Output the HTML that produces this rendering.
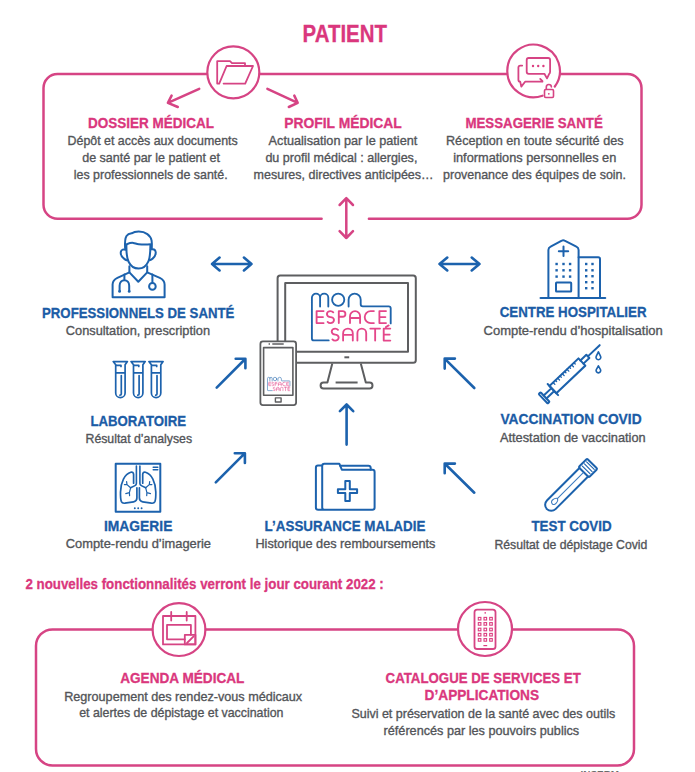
<!DOCTYPE html>
<html><head><meta charset="utf-8">
<style>
html,body{margin:0;padding:0;background:#fff;}
body{width:695px;height:772px;overflow:hidden;}
svg{display:block;}
text{font-family:"Liberation Sans",sans-serif;}
.tp{font-weight:bold;font-size:14.8px;fill:#da377d;stroke:#da377d;stroke-width:0.3px;}
.tb{font-weight:bold;font-size:14.8px;fill:#1b5ca6;stroke:#1b5ca6;stroke-width:0.3px;}
.bd{font-size:13px;fill:#535559;stroke:#535559;stroke-width:0.35px;}
.pk{fill:none;stroke:#d64484;stroke-width:2.5;stroke-linecap:round;stroke-linejoin:round;}
.bl{fill:none;stroke:#1c62ad;stroke-width:2;stroke-linecap:round;stroke-linejoin:round;}
.ar{fill:none;stroke:#1c62ad;stroke-width:2.6;stroke-linecap:round;stroke-linejoin:round;}
.gr{fill:none;stroke:#5d5e60;stroke-width:2;stroke-linejoin:round;}
</style></head>
<body>
<svg width="695" height="772" viewBox="0 0 695 772">
<!-- ===== TOP PATIENT BOX ===== -->
<text class="tp" x="302.6" y="42.3" style="font-size:24.5px" textLength="84.4" lengthAdjust="spacingAndGlyphs">PATIENT</text>
<path class="pk" d="M206.5,74 H57.5 A14,14 0 0 0 43.5,88 V204.8 A14,14 0 0 0 57.5,218.8 H321.6 M368.9,218.8 H627.5 A14,14 0 0 0 641.5,204.8 V88 A14,14 0 0 0 627.5,74 H560.6 M506.5,74 H260"/>
<circle class="pk" cx="233.3" cy="72.3" r="26" style="stroke-width:2.2"/>
<!-- folder icon -->
<path class="pk" style="stroke-width:1.8" d="M245,65.5 V63.2 H232 L230,61.2 H217.2 V83.6 H219.2 L226.6,66 H253 L245.2,83.6 H223.6"/>
<!-- message circle w/ gap -->
<path class="pk" style="stroke-width:2.2" d="M542.5,95.7 A26.3,26.3 0 1 1 554.8,86.5"/>
<path class="pk" style="stroke-width:1.8" d="M528.7,58 H548.1 Q550.1,58 550.1,60 V71.8 Q550.1,73.4 549.2,73.9 L547,78.4 L544.4,73.8 H528.7 Q526.7,73.8 526.7,71.8 V60 Q526.7,58 528.7,58 Z"/>
<path class="pk" style="stroke-width:1.8" d="M522.2,65.6 H520.4 Q518.4,65.6 518.4,67.6 V79.7 Q518.4,81.7 520.2,81.7 L521.3,86.6 L525.1,81.7 H542.4 M540.2,78.9 L542.5,81.2"/>
<g fill="#dc3e80"><circle cx="533" cy="66" r="1.2"/><circle cx="538.2" cy="66" r="1.2"/><circle cx="543.4" cy="66" r="1.2"/></g>
<path class="pk" style="stroke-width:1.6" d="M546.3,89.2 V87.2 A2.55,2.55 0 0 1 551.4,87"/>
<rect class="pk" style="stroke-width:1.6" x="544.5" y="89.5" width="9" height="8" rx="1.2"/>
<circle cx="548.8" cy="93.8" r="0.9" fill="#dc3e80"/>
<!-- pink arrows -->
<path class="pk" d="M199.2,88.8 L167.9,102.8 M171.6,95.6 L167.9,102.8 L177.8,107"/>
<path class="pk" d="M267.4,88.8 L297.7,102.8 M294.3,95.6 L297.7,102.8 L288.8,107"/>
<path class="pk" d="M346.3,198.2 V238 M339.6,205 L346.3,198.2 L353,205 M339.6,231.2 L346.3,238 L353,231.2"/>

<!-- top titles -->
<text class="tp" x="88" y="127.8" textLength="126" lengthAdjust="spacingAndGlyphs">DOSSIER MÉDICAL</text>
<text class="tp" x="284.2" y="127.8" textLength="117.6" lengthAdjust="spacingAndGlyphs">PROFIL MÉDICAL</text>
<text class="tp" x="465.4" y="127.8" textLength="137.4" lengthAdjust="spacingAndGlyphs">MESSAGERIE SANTÉ</text>
<text class="bd" x="67.6" y="144.7" textLength="170.1" lengthAdjust="spacingAndGlyphs">Dépôt et accès aux documents</text>
<text class="bd" x="82.2" y="162" textLength="137.8" lengthAdjust="spacingAndGlyphs">de santé par le patient et</text>
<text class="bd" x="73.8" y="179.4" textLength="153.8" lengthAdjust="spacingAndGlyphs">les professionnels de santé.</text>
<text class="bd" x="268.6" y="144.7" textLength="148.7" lengthAdjust="spacingAndGlyphs">Actualisation par le patient</text>
<text class="bd" x="265.4" y="162" textLength="152" lengthAdjust="spacingAndGlyphs">du profil médical : allergies,</text>
<text class="bd" x="253.6" y="179.4" textLength="180" lengthAdjust="spacingAndGlyphs">mesures, directives anticipées…</text>
<text class="bd" x="446" y="144.7" textLength="177.5" lengthAdjust="spacingAndGlyphs">Réception en toute sécurité des</text>
<text class="bd" x="453.2" y="162" textLength="163.1" lengthAdjust="spacingAndGlyphs">informations personnelles en</text>
<text class="bd" x="443.1" y="179.4" textLength="182.9" lengthAdjust="spacingAndGlyphs">provenance des équipes de soin.</text>

<!-- ===== MIDDLE ===== -->
<!-- arrows -->
<path class="ar" d="M212,264 H251.5 M219.6,257.6 L212,264 L219.6,270.4 M243.9,257.6 L251.5,264 L243.9,270.4"/>
<path class="ar" d="M439.5,264 H479.5 M447.3,257.6 L439.5,264 L447.3,270.4 M471.7,257.6 L479.5,264 L471.7,270.4"/>
<path class="ar" d="M216.7,387.6 L245.2,359 M235.7,358.8 H245.4 V368.3"/>
<path class="ar" d="M215.8,482.3 L244.7,453.4 M234.8,453.3 H244.9 V462.9"/>
<path class="ar" d="M474.3,388 L444.9,358.8 M454.9,358.6 H444.7 V368.6"/>
<path class="ar" d="M474.3,492.7 L444.9,463.7 M454.9,463.6 H444.7 V473.3"/>
<path class="ar" d="M346.6,404.5 V444.6 M339.9,411.2 L346.6,404.5 L353.2,411.2"/>

<!-- monitor -->
<rect class="gr" x="277.6" y="275.6" width="138.2" height="87.2" rx="2.6"/>
<rect class="gr" x="285.2" y="283" width="122.8" height="68.8"/>
<path class="gr" d="M344.4,357.3 H349.2"/>
<path class="gr" d="M332.3,363.6 L327.4,382.6 H323.5 A2.9,2.9 0 0 0 323.5,388.4 H369.6 A2.9,2.9 0 0 0 369.6,382.6 H365.8 L360.8,363.6 M335.6,382.4 H357.6"/>
<defs>
<g id="logo" fill="none" stroke-linecap="round" stroke-linejoin="round">
<path stroke="#1f64ab" d="M328.7,340.4 H313.9 A2,2 0 0 1 311.9,338.4 V297.7 A4.1,4.1 0 0 1 320.1,297.7 V306.6 M320.1,297.7 A4.1,4.1 0 0 1 328.3,297.7 V306.6 M344.3,299.7 A6.1,6.1 0 1 1 332.1,299.7 A6.1,6.1 0 1 1 344.3,299.7 Z M348.6,306.6 V299.7 A6.05,6.05 0 0 1 360.7,299.7 V304.3 A2,2 0 0 0 362.7,306.3 H388.7 A2,2 0 0 1 390.7,308.3 V323.4"/>
<path stroke="#e4478a" d="M323.60,311.10 H316.60 V323.10 H323.60 M316.60,317.10 H323.00 M333.29,312.30 A3.55,3.00 0 0 0 330.45,311.10 A3.55,3.00 0 0 0 326.90,314.10 A3.55,3.00 0 0 0 330.45,317.10 A3.55,3.00 0 0 1 334.00,320.10 A3.55,3.00 0 0 1 330.45,323.10 A3.55,3.00 0 0 1 327.61,321.90 M338.80,323.10 V311.10 H342.60 A2.80,2.80 0 0 1 342.60,316.70 H338.80 M350.00,323.10 V316.15 A5.05,5.05 0 0 1 360.10,316.15 V323.10 M350.00,318.00 H360.10 M373.90,311.10 H370.70 A6.00,6.00 0 0 0 370.70,323.10 H373.90 M386.00,311.10 H379.40 V323.10 H386.00 M379.40,317.10 H385.40 M338.00,329.80 A3.50,3.00 0 0 0 335.20,328.60 A3.50,3.00 0 0 0 331.70,331.60 A3.50,3.00 0 0 0 335.20,334.60 A3.50,3.00 0 0 1 338.70,337.60 A3.50,3.00 0 0 1 335.20,340.60 A3.50,3.00 0 0 1 332.40,339.40 M343.10,340.60 V333.45 A4.85,4.85 0 0 1 352.80,333.45 V340.60 M343.10,334.80 H352.80 M357.40,340.60 V333.00 A4.40,4.40 0 0 1 366.20,333.00 V340.60 M370.30,328.60 H380.00 M375.15,328.60 V340.60 M390.30,328.60 H383.70 V340.60 H390.30 M383.70,334.60 H389.70 M385.9,327.0 L388.7,325.4"/>
</g>
</defs>
<use href="#logo" stroke-width="1.85"/>

<!-- phone -->
<rect x="260.4" y="341.4" width="35.7" height="63.7" rx="2.5" fill="#fff" stroke="#5d5e60" stroke-width="1.8"/>
<rect class="gr" style="stroke-width:1.6" x="263.6" y="347.6" width="29.3" height="47.7"/>
<path class="gr" style="stroke-width:1.4" d="M268.6,344 H270 M272.3,344 H283.7"/>
<rect class="gr" style="stroke-width:1.4" x="275.4" y="397.9" width="5.7" height="4.1"/>
<use href="#logo" stroke-width="1.9" transform="translate(178.6,293.6) scale(0.285)"/>

<!-- doctor -->
<g class="bl">
<path d="M125.1,248.3 C124.8,243 124.9,238.5 126.5,236 C127.6,234.4 129.6,233.6 131.6,233.3 C133.6,232 136,231.6 138.7,231.6 C145.6,231.6 150.6,235.2 151.6,240.6 C152,243 151.9,246 151.8,248.3"/>
<path d="M126.8,244.2 C128.8,243.4 131.2,242.6 133.3,242.9 C135.2,243.2 136.6,244.2 138.7,244.3 C142,244.5 146.8,244.6 150.4,244.2"/>
<path d="M126.4,245 C126.3,251 126.6,257.6 128.6,261.8 C130.4,265.6 133.6,268.6 138.6,268.6 C143.4,268.6 146.6,265.4 148.4,261.4 C150.2,257.4 150.4,251 150.4,245"/>
<path d="M126,249.8 C123.6,249 121.2,249.4 120.8,252 C120.5,254.4 121.8,257 124,258.6 C125,259.4 126,260 127,260.4 M150.8,249.4 C153.2,248.8 155.4,249.4 155.7,252 C155.9,254.6 154.6,257 152.6,258.6 C151.8,259.2 150.9,259.8 150,260.2"/>
<path d="M129.4,266.2 V272.4 L138.3,281.8 L147.2,272.4 V266.2"/>
<path d="M129.4,272.4 L117.4,277.8 C114.4,279.2 112.6,281.4 112.6,284.4 V297.2 H164.6 V284.4 C164.6,281.4 162.8,279.2 159.8,277.8 L147.2,272.4"/>
<path d="M124.4,274.6 V280.2 M119.6,291 V285.8 C119.6,282.4 121.7,280.2 124.4,280.2 C127.1,280.2 129.2,282.4 129.2,285.8 V291"/>
<path d="M152.4,274.6 V283"/>
<circle cx="152.4" cy="286.4" r="3.3"/>
</g>
<g fill="#1c62ad"><circle cx="119.6" cy="291.4" r="1.4"/><circle cx="129.2" cy="291.4" r="1.4"/></g>

<!-- test tubes -->
<defs><path id="tube" d="M113.2,361.6 H127.4 L125.1,364.8 V392.9 A4.7,4.7 0 0 1 115.7,392.9 V364.8 Z M116.6,365.4 H121 V366.4 M115.7,372.9 H125.1 M121.3,375.6 V394 Q121.3,395.2 120,395.2"/></defs>
<g class="bl" style="stroke-width:1.7">
<use href="#tube"/><use href="#tube" x="17.8"/><use href="#tube" x="35.7"/>
</g>

<!-- lungs / imagerie -->
<defs><g id="lunghalf">
<path style="stroke-width:1.6" d="M136.4,466.1 V483.6 Q136.4,485 135,485.6 L130.6,487.8"/>
<path style="stroke-width:1.2" d="M130.6,487.8 L127,484.6 L124.4,484.6 M127,484.6 L126.6,481.6 M130.6,487.8 L129.4,492.6 L125.8,493.6 M129.4,492.6 L129.6,495.6"/>
<path style="stroke-width:1.7" d="M133.6,483.2 V474.6 C133.6,472.6 132.4,471.8 130.8,472.3 C124.6,474.2 120.8,482 120.5,492 C120.4,496.5 120.6,499.6 121.4,501.6 C122,503 123.2,503.4 124.8,503.2 L133.6,501.8 C135.8,501.4 136.9,500.2 136.9,498 V487.8"/>
</g></defs>
<g class="bl">
<rect x="115.7" y="463.7" width="44.6" height="48" style="stroke-width:2"/>
<path style="stroke-width:1.5" d="M153.2,467.2 H157.8 M153.2,469.8 H157.8"/>
<use href="#lunghalf"/>
<use href="#lunghalf" transform="translate(276.3,0) scale(-1,1)"/>
</g>
<g fill="#1c62ad"><circle cx="134.8" cy="508.2" r="0.95"/><circle cx="138.2" cy="508.2" r="0.95"/><circle cx="141.6" cy="508.2" r="0.95"/></g>

<!-- assurance folder -->
<g class="bl">
<path d="M322.4,465.6 H318 Q315.9,465.6 315.9,467.8 V507.6 Q315.9,509.8 318.1,509.8 H372.4 Q374.6,509.8 374.6,507.6 V471.9 Q374.6,469.7 372.4,469.7 H341.8 L339.3,463.7 H324.4 Q322.2,463.7 322.2,465.9 V507.4 Q322.2,509.8 324.4,509.8"/>
<path d="M340.2,465.8 H368.4 Q370.6,465.8 370.7,468 V469.7"/>
<path d="M345.3,481.1 H349.8 V489.3 H357.1 V492.9 H349.8 V500.9 H345.3 V492.9 H337.9 V489.3 H345.3 Z"/>
</g>

<!-- hospital -->
<g class="bl">
<path d="M548.4,297.4 V250 Q548.4,247.6 550.6,246.6 L561.8,240.6 Q563.2,239.8 564.6,240.6 L576.4,246.6 Q578.6,247.6 578.6,250 V297.4"/>
<path d="M578.6,257.2 H598.2 Q600,257.2 600,259 V297.4"/>
<path d="M540.6,298 H605.2" style="stroke-width:2.2"/>
<path d="M563.5,246.6 V256 M558.8,251.3 H568.2"/>
<rect x="556" y="282.6" width="15.2" height="9" rx="0.6"/>
</g>
<g fill="#1c62ad">
<rect x="555.4" y="262.8" width="2.4" height="2.4"/><rect x="562.3" y="262.8" width="2.4" height="2.4"/><rect x="568.9" y="262.8" width="2.4" height="2.4"/>
<rect x="555.4" y="269.1" width="2.4" height="2.4"/><rect x="562.3" y="269.1" width="2.4" height="2.4"/><rect x="568.9" y="269.1" width="2.4" height="2.4"/>
<rect x="555.4" y="275.4" width="2.4" height="2.4"/><rect x="562.3" y="275.4" width="2.4" height="2.4"/><rect x="568.9" y="275.4" width="2.4" height="2.4"/>
<rect x="585" y="262.8" width="2.4" height="2.4"/><rect x="591.3" y="262.8" width="2.4" height="2.4"/>
<rect x="585" y="269.1" width="2.4" height="2.4"/><rect x="591.3" y="269.1" width="2.4" height="2.4"/>
<rect x="585" y="275" width="2.4" height="2.4"/><rect x="591.3" y="275" width="2.4" height="2.4"/>
<rect x="585" y="281" width="2.4" height="2.4"/><rect x="591.3" y="281" width="2.4" height="2.4"/>
<rect x="585" y="287" width="2.4" height="2.4"/><rect x="591.3" y="287" width="2.4" height="2.4"/>
</g>

<!-- syringe -->
<g class="bl" transform="translate(567.4,375.8) rotate(-43.5)">
<rect x="-20" y="-5" width="40" height="10"/>
<path d="M-20,-7.6 V7.6 M-20,-2 H-30.8 M-20,2 H-30.8 M20,-2.2 H28.2 V2.2 H20 M28.2,0 H44.5"/>
<rect x="-33.4" y="-6.6" width="2.6" height="13.2" rx="0.8"/>
<path style="stroke-width:1.3" d="M-15.0,-5 V-2.4 M-11.8,-5 V-3.2 M-8.6,-5 V-2.4 M-5.4,-5 V-3.2 M-2.2,-5 V-2.4 M1.0,-5 V-3.2 M4.2,-5 V-2.4 M7.4,-5 V-3.2 M10.6,-5 V-2.4 M13.8,-5 V-3.2"/>
</g>
<g class="bl" style="stroke-width:1.6">
<path d="M598.4,351.8 L596.2,356.4 A2.4,2.4 0 1 0 600.6,356.4 Z"/>
<path d="M598.4,365.8 L596.3,369.6 A2.3,2.3 0 1 0 600.5,369.6 Z"/>
</g>

<!-- test covid -->
<g class="bl" transform="translate(588,468) rotate(-45)">
<path d="M-6,-6.1 H-52 A6.1,6.1 0 0 0 -52,6.1 H-6"/>
<rect x="-6" y="-7.3" width="12" height="14.6" rx="1.2"/>
<path style="stroke-width:1.1" d="M-2.6,-5.4 V5.4 M0.4,-5.4 V5.4 M3.4,-5.4 V5.4"/>
<path style="stroke-width:1.1;stroke:#3d7cc0" d="M-7,0 H-43 M-43,0 C-44.5,-2.9 -50.6,-3.6 -50.6,0 C-50.6,3.6 -44.5,2.9 -43,0"/>
</g>

<!-- middle titles -->
<text class="tb" x="42" y="317.6" textLength="192.4" lengthAdjust="spacingAndGlyphs">PROFESSIONNELS DE SANTÉ</text>
<text class="bd" x="65.8" y="334.6" textLength="144.2" lengthAdjust="spacingAndGlyphs">Consultation, prescription</text>
<text class="tb" x="90.4" y="425.7" textLength="95.6" lengthAdjust="spacingAndGlyphs">LABORATOIRE</text>
<text class="bd" x="85.5" y="442.8" textLength="106.6" lengthAdjust="spacingAndGlyphs">Résultat d’analyses</text>
<text class="tb" x="104" y="530.7" textLength="68.4" lengthAdjust="spacingAndGlyphs">IMAGERIE</text>
<text class="bd" x="65.8" y="548" textLength="145.2" lengthAdjust="spacingAndGlyphs">Compte-rendu d’imagerie</text>
<text class="tb" x="264.6" y="530.6" textLength="160.8" lengthAdjust="spacingAndGlyphs">L’ASSURANCE MALADIE</text>
<text class="bd" x="255.4" y="547.7" textLength="180" lengthAdjust="spacingAndGlyphs">Historique des remboursements</text>
<text class="tb" x="499.7" y="317.4" textLength="146.8" lengthAdjust="spacingAndGlyphs">CENTRE HOSPITALIER</text>
<text class="bd" x="483.5" y="334.6" textLength="179.3" lengthAdjust="spacingAndGlyphs">Compte-rendu d’hospitalisation</text>
<text class="tb" x="500.4" y="424.1" textLength="141.2" lengthAdjust="spacingAndGlyphs">VACCINATION COVID</text>
<text class="bd" x="500" y="441.6" textLength="145.6" lengthAdjust="spacingAndGlyphs">Attestation de vaccination</text>
<text class="tb" x="531.4" y="531" textLength="80.2" lengthAdjust="spacingAndGlyphs">TEST COVID</text>
<text class="bd" x="494.4" y="548.6" textLength="153" lengthAdjust="spacingAndGlyphs">Résultat de dépistage Covid</text>

<!-- ===== BOTTOM ===== -->
<text class="tp" x="25.4" y="588.6" textLength="358.4" lengthAdjust="spacingAndGlyphs">2 nouvelles fonctionnalités verront le jour courant 2022 :</text>
<path class="pk" d="M152.2,629.4 H52.5 A16.5,16.5 0 0 0 36,645.9 V749 A16.5,16.5 0 0 0 52.5,765.5 H617.5 A16.5,16.5 0 0 0 634,749 V645.9 A16.5,16.5 0 0 0 617.5,629.4 H512.6 M457.4,629.4 H205.8"/>
<circle class="pk" cx="179" cy="629.6" r="26.4" style="stroke-width:2.2"/>
<circle class="pk" cx="485" cy="629" r="27" style="stroke-width:2.2"/>
<!-- calendar -->
<g class="pk" style="stroke-width:1.8">
<rect x="163" y="616" width="32.4" height="28.4"/>
<path d="M171.2,612 V620.6 M186.7,612 V620.6"/>
<path d="M184.8,639.3 H167 V624.9 H190.9 V634.8"/>
<rect x="184.8" y="634.8" width="10.6" height="9.6"/>
<path d="M187,643 L193.6,636.4"/>
</g>
<!-- app phone -->
<g class="pk" style="stroke-width:1.8">
<rect x="474.5" y="609.6" width="21" height="39.4" rx="2.6"/>
</g>
<g fill="none" stroke="#dc3e80" stroke-width="1.1">
<rect x="478.3" y="617.4" width="2.6" height="2.6"/><rect x="484" y="617.4" width="2.6" height="2.6"/><rect x="489.7" y="617.4" width="2.6" height="2.6"/>
<rect x="478.3" y="622.6" width="2.6" height="2.6"/><rect x="484" y="622.6" width="2.6" height="2.6"/><rect x="489.7" y="622.6" width="2.6" height="2.6"/>
<rect x="478.3" y="628.2" width="2.6" height="2.6"/><rect x="484" y="628.2" width="2.6" height="2.6"/><rect x="489.7" y="628.2" width="2.6" height="2.6"/>
<rect x="478.3" y="633.4" width="2.6" height="2.6"/><rect x="484" y="633.4" width="2.6" height="2.6"/><rect x="489.7" y="633.4" width="2.6" height="2.6"/>
<rect x="478.3" y="638.6" width="2.6" height="2.6"/><rect x="484" y="638.6" width="2.6" height="2.6"/><rect x="489.7" y="638.6" width="2.6" height="2.6"/>
</g>
<g fill="#dc3e80"><circle cx="485.2" cy="612.9" r="0.8"/><rect x="483.4" y="645" width="3.8" height="1.2"/></g>

<text class="tp" x="120.2" y="682.8" textLength="124.2" lengthAdjust="spacingAndGlyphs">AGENDA MÉDICAL</text>
<text class="bd" x="64.2" y="700.5" textLength="238" lengthAdjust="spacingAndGlyphs">Regroupement des rendez-vous médicaux</text>
<text class="bd" x="79.2" y="717.2" textLength="204.2" lengthAdjust="spacingAndGlyphs">et alertes de dépistage et vaccination</text>
<text class="tp" x="385.6" y="682.7" textLength="195.2" lengthAdjust="spacingAndGlyphs">CATALOGUE DE SERVICES ET</text>
<text class="tp" x="424.6" y="700" textLength="114.4" lengthAdjust="spacingAndGlyphs">D’APPLICATIONS</text>
<text class="bd" x="351.4" y="718.2" textLength="263.8" lengthAdjust="spacingAndGlyphs">Suivi et préservation de la santé avec des outils</text>
<text class="bd" x="383.6" y="735" textLength="195.6" lengthAdjust="spacingAndGlyphs">référencés par les pouvoirs publics</text>
<text x="580.6" y="776.9" font-size="9" font-weight="bold" fill="#6a6a6a" textLength="38.4" lengthAdjust="spacingAndGlyphs">INSERM</text>
</svg>
</body></html>
